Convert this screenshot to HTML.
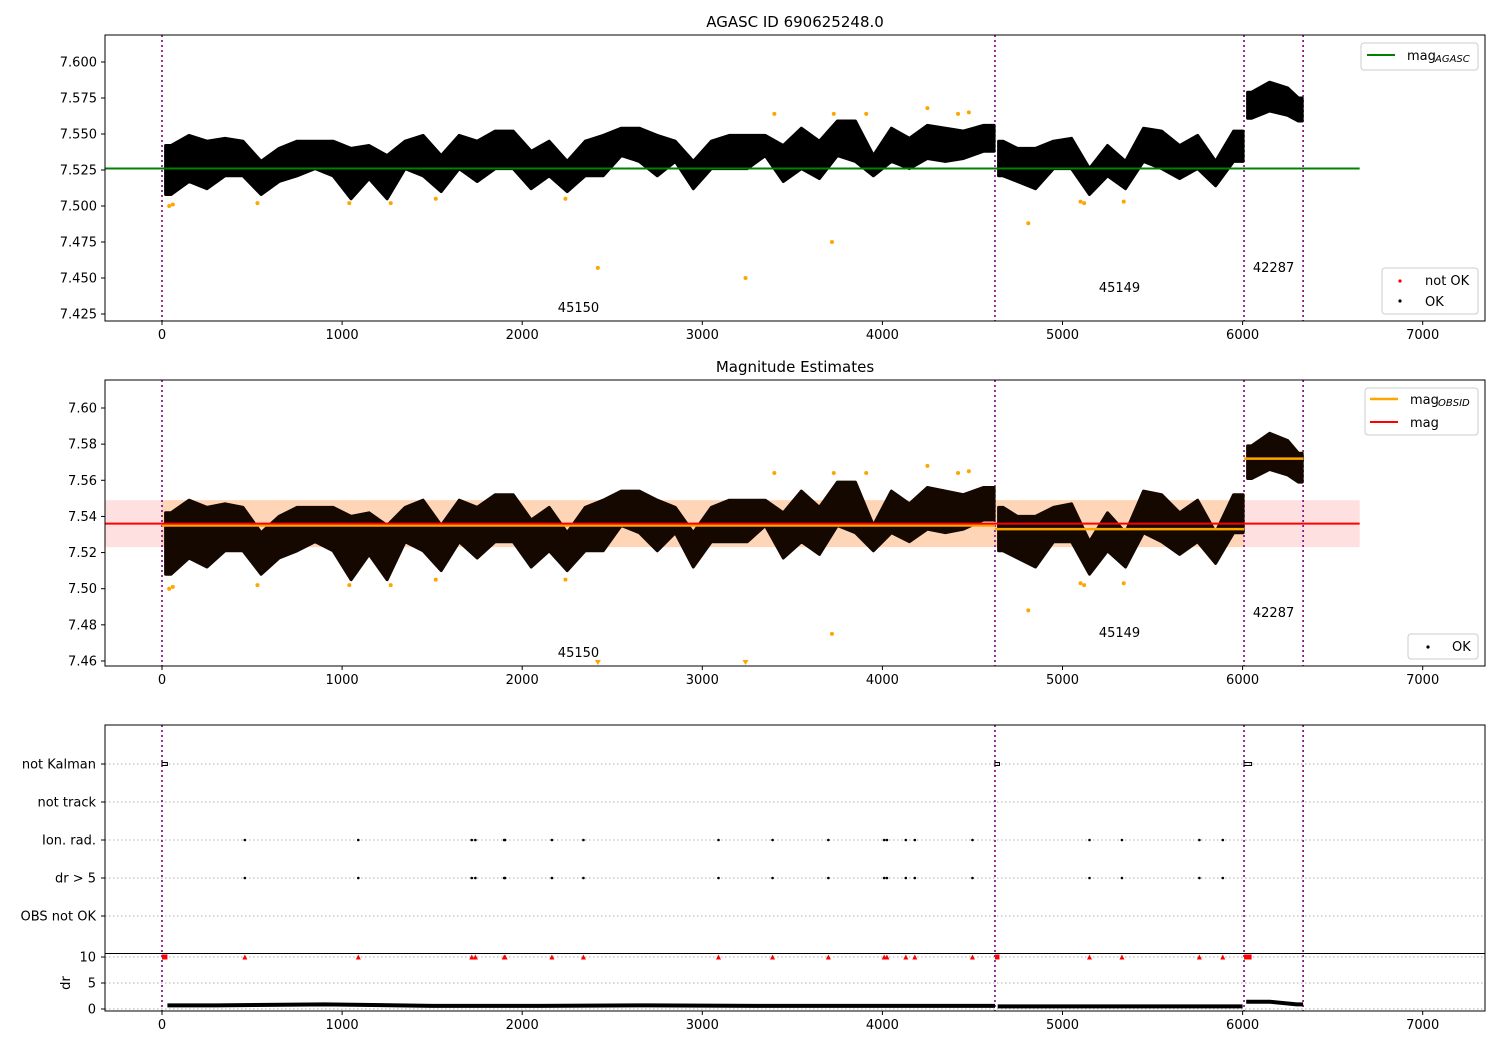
<!DOCTYPE html>
<html><head><meta charset="utf-8">
<style>
html,body{margin:0;padding:0;background:#fff;}
svg{display:block;font-family:"DejaVu Sans","Liberation Sans",sans-serif;}
</style></head>
<body>
<svg id="chart" width="1500" height="1050" viewBox="0 0 1500 1050" xmlns="http://www.w3.org/2000/svg"></svg>
<script>
// ---- data ----
const binTimes = [50,150,250,350,450,550,650,750,850,950,1050,1150,1250,1350,1450,1550,1650,1750,1850,1950,2050,2150,2250,2350,2450,2550,2650,2750,2850,2950,3050,3150,3250,3350,3450,3550,3650,3750,3850,3950,4050,4150,4250,4350,4450,4560,4670,4750,4850,4950,5050,5150,5250,5350,5450,5550,5650,5750,5850,5950,6050,6150,6250,6310];
const binLow = [7.508,7.517,7.512,7.521,7.521,7.508,7.517,7.521,7.526,7.521,7.505,7.519,7.505,7.526,7.521,7.510,7.526,7.517,7.526,7.526,7.512,7.521,7.510,7.521,7.521,7.535,7.531,7.521,7.531,7.512,7.526,7.526,7.526,7.535,7.517,7.526,7.519,7.535,7.531,7.521,7.531,7.526,7.533,7.531,7.533,7.538,7.521,7.517,7.512,7.526,7.526,7.508,7.521,7.512,7.531,7.526,7.519,7.526,7.514,7.531,7.561,7.566,7.563,7.559];
const binHigh = [7.542,7.549,7.545,7.547,7.545,7.531,7.540,7.545,7.545,7.545,7.540,7.542,7.535,7.545,7.549,7.535,7.549,7.545,7.552,7.552,7.538,7.545,7.531,7.545,7.549,7.554,7.554,7.549,7.545,7.531,7.545,7.549,7.549,7.549,7.542,7.554,7.545,7.559,7.559,7.535,7.554,7.547,7.556,7.554,7.552,7.556,7.545,7.540,7.540,7.545,7.547,7.526,7.542,7.531,7.554,7.552,7.542,7.549,7.531,7.552,7.579,7.586,7.582,7.575];
const orangeTimes = [40,60,530,1040,1270,1520,2240,2420,3240,3400,3720,3730,3910,4250,4420,4480,4810,5100,5120,5340];
const orangeMags = [7.500,7.501,7.502,7.502,7.502,7.505,7.505,7.457,7.450,7.564,7.475,7.564,7.564,7.568,7.564,7.565,7.488,7.503,7.502,7.503];
const obsStarts = [0,4625,6008];
const obsEnds = [4625,6008,6336];
const obsIds = ["45150","45149","42287"];
const obsMags = [7.535,7.533,7.572];
const magAgasc = 7.526;
const magMean = 7.536;
const magBandLow = 7.523;
const magBandHigh = 7.549;
const ionTimes = [460,1090,1720,1740,1900,1905,2165,2340,3090,3390,3700,4010,4025,4130,4180,4500,5150,5330,5760,5890];
const kalmanStarts = [0,4625,6008];
const kalmanEnds = [30,4650,6050];
const drBinTimes = [300,900,1500,2100,2700,3300,3900,4400,4900,5500,5900,6150,6300];
const drBinValues = [0.7,0.9,0.6,0.6,0.7,0.6,0.6,0.6,0.5,0.5,0.5,1.4,0.9];
const xTicks = [0,1000,2000,3000,4000,5000,6000,7000];
const y1Ticks = [7.425,7.450,7.475,7.500,7.525,7.550,7.575,7.600];
const y2Ticks = [7.46,7.48,7.50,7.52,7.54,7.56,7.58,7.60];
const flagLabels = ["not Kalman","not track","Ion. rad.","dr > 5","OBS not OK"];
const drTicks = [0,5,10];

// ---- scales ----
const X0=105, X1=1485;
const xs = t => 162 + (t)*0.1801;
const P1 = {top:35,bottom:321, y:m => 62 + (7.600-m)*1440};
const P2 = {top:380,bottom:666, y:m => 408 + (7.60-m)*1807};
const flagY = i => 764 + i*38;
const drY = v => 1009 - v*5.2;
const svg = document.getElementById('chart');
const NS='http://www.w3.org/2000/svg';
function mk(tag, attrs, parent, text){
  const e=document.createElementNS(NS,tag);
  for(const k in attrs) e.setAttribute(k,attrs[k]);
  if(text!==undefined) e.textContent=text;
  (parent||svg).appendChild(e);
  return e;
}
function g(name){ const e=mk('g',{});   return e; }

function xAxis(parent, bottom){
  xTicks.forEach(t=>{
    const l=mk('line',{x1:xs(t),x2:xs(t),y1:bottom,y2:bottom+4,stroke:'#000','stroke-width':1},parent);
    
    
    const tx=mk('text',{x:xs(t),y:bottom+18,'font-size':13,'text-anchor':'middle'},parent,String(t));
    
    
  });
}
function frame(parent, top, bottom, name){
  const r=mk('rect',{x:X0,y:top,width:X1-X0,height:bottom-top,fill:'none',stroke:'#000','stroke-width':1},parent);
  
  
}
function obsLines(parent, top, bottom){
  [0,4625,6008,6336].forEach(t=>{
    const l=mk('line',{x1:xs(t),x2:xs(t),y1:top,y2:bottom,stroke:'#800080','stroke-width':1.6,'stroke-dasharray':'2,3'},parent);
    
    
  });
}
function yAxis(parent, ticks, yf, dec){
  ticks.forEach(v=>{
    mk('line',{x1:X0-4,x2:X0,y1:yf(v),y2:yf(v),stroke:'#000'},parent);
    const tx=mk('text',{x:X0-8,y:yf(v)+4.5,'font-size':13,'text-anchor':'end'},parent,v.toFixed(dec));
    
    
  });
}
function band(parent, yf, color){
  obsStarts.forEach((s,k)=>{
    const e=obsEnds[k];
    const idx=[];
    binTimes.forEach((t,i)=>{ if(t>s && t<e) idx.push(i); });
    if(!idx.length) return;
    const t0=s+20, t1=e-5;
    const up=[[t0,binHigh[idx[0]]]].concat(idx.map(i=>[binTimes[i],binHigh[i]])).concat([[t1,binHigh[idx[idx.length-1]]]]);
    const lo=[[t0,binLow[idx[0]]]].concat(idx.map(i=>[binTimes[i],binLow[i]])).concat([[t1,binLow[idx[idx.length-1]]]]);
    const pts=up.concat(lo.reverse()).map(p=>xs(p[0]).toFixed(1)+','+yf(p[1]).toFixed(1)).join(' ');
    const pg=mk('polygon',{points:pts,fill:color,stroke:color,'stroke-width':3,'stroke-linejoin':'round'},parent);
    
    
  });
}
function obsText(parent, yf, offs){
  obsIds.forEach((id,i)=>{
    const mid=(obsStarts[i]+obsEnds[i])/2;
    const tx=mk('text',{x:xs(mid),y:offs[i],'font-size':13,'text-anchor':'middle'},parent,id);
    
    
  });
}

// ---- Panel 1 ----
const p1=g('agasc-panel');
const t1=mk('text',{x:795,y:27,'font-size':15,'text-anchor':'middle'},p1,'AGASC ID 690625248.0');


obsLines(p1,P1.top,P1.bottom);
band(p1,P1.y,'#000');
orangeTimes.forEach((t,i)=>{
  const c=mk('circle',{cx:xs(t),cy:P1.y(orangeMags[i]),r:2,fill:'orange'},p1);
  
  
});
const ag=mk('line',{x1:X0,x2:xs(6650),y1:P1.y(magAgasc),y2:P1.y(magAgasc),stroke:'green','stroke-width':2},p1);


obsText(p1,P1.y,[312,292,272]);
frame(p1,P1.top,P1.bottom,'panel1-frame');
yAxis(p1,y1Ticks,P1.y,3);
xAxis(p1,P1.bottom);
// legends
const lg1=g('legend-agasc');
mk('rect',{x:1361,y:43,width:117,height:27,rx:3,fill:'#fff',stroke:'#ccc'},lg1);
mk('line',{x1:1367,x2:1395,y1:55,y2:55,stroke:'green','stroke-width':2},lg1);
const lt1=mk('text',{x:1407,y:60,'font-size':13},lg1,'mag');


mk('text',{x:1435,y:62,'font-size':10,'font-style':'italic'},lg1,'AGASC');
const lg2=g('legend-ok');
mk('rect',{x:1382,y:268,width:96,height:46,rx:3,fill:'#fff',stroke:'#ccc'},lg2);
mk('circle',{cx:1400,cy:281,r:1.6,fill:'red'},lg2);
mk('text',{x:1425,y:285,'font-size':13},lg2,'not OK');
mk('circle',{cx:1400,cy:301,r:1.6,fill:'#000'},lg2);
mk('text',{x:1425,y:306,'font-size':13},lg2,'OK');

// ---- Panel 2 ----
const p2=g('magnitude-estimates-panel');
const t2=mk('text',{x:795,y:372,'font-size':15,'text-anchor':'middle'},p2,'Magnitude Estimates');


const pb=mk('rect',{x:X0,y:P2.y(magBandHigh),width:xs(6650)-X0,height:P2.y(magBandLow)-P2.y(magBandHigh),fill:'rgba(255,0,0,0.12)'},p2);


const ob=mk('rect',{x:xs(0),y:P2.y(magBandHigh),width:xs(6008)-xs(0),height:P2.y(magBandLow)-P2.y(magBandHigh),fill:'rgba(255,165,0,0.18)'},p2);


obsLines(p2,P2.top,P2.bottom);
band(p2,P2.y,'#140800');
orangeTimes.forEach((t,i)=>{
  const m=orangeMags[i];
  if(m<7.4572){
    const x=xs(t), y=663;
    const p=mk('path',{d:`M${x-3},${y-3}L${x+3},${y-3}L${x},${y+2}Z`,fill:'orange'},p2);
    
    
  } else {
    const c=mk('circle',{cx:xs(t),cy:P2.y(m),r:2,fill:'orange'},p2);
    
    
  }
});
obsStarts.forEach((s,i)=>{
  const l=mk('line',{x1:xs(s),x2:xs(obsEnds[i]),y1:P2.y(obsMags[i]),y2:P2.y(obsMags[i]),stroke:'orange','stroke-width':2.5},p2);
  
  
});
const ml=mk('line',{x1:X0,x2:xs(6650),y1:P2.y(magMean),y2:P2.y(magMean),stroke:'red','stroke-width':2},p2);


obsText(p2,P2.y,[657,637,617]);
frame(p2,P2.top,P2.bottom,'panel2-frame');
yAxis(p2,y2Ticks,P2.y,2);
xAxis(p2,P2.bottom);
const lg3=g('legend-obsid');
mk('rect',{x:1365,y:388,width:113,height:47,rx:3,fill:'#fff',stroke:'#ccc'},lg3);
mk('line',{x1:1370,x2:1398,y1:399,y2:399,stroke:'orange','stroke-width':2.5},lg3);
mk('text',{x:1410,y:404,'font-size':13},lg3,'mag');
mk('text',{x:1438,y:406,'font-size':10,'font-style':'italic'},lg3,'OBSID');
mk('line',{x1:1370,x2:1398,y1:422,y2:422,stroke:'red','stroke-width':2},lg3);
mk('text',{x:1410,y:427,'font-size':13},lg3,'mag');
const lg4=g('legend-ok-2');
mk('rect',{x:1408,y:634,width:70,height:25,rx:3,fill:'#fff',stroke:'#ccc'},lg4);
mk('circle',{cx:1428,cy:647,r:1.6,fill:'#000'},lg4);
mk('text',{x:1452,y:651,'font-size':13},lg4,'OK');

// ---- Panel 3 ----
const p3=g('flags-panel');
flagLabels.forEach((lab,i)=>{
  const gl=mk('line',{x1:X0,x2:X1,y1:flagY(i),y2:flagY(i),stroke:'#b0b0b0','stroke-dasharray':'1.5,2.5'},p3);
  
  
  mk('line',{x1:X0-4,x2:X0,y1:flagY(i),y2:flagY(i),stroke:'#000'},p3);
  const tx=mk('text',{x:X0-9,y:flagY(i)+4.5,'font-size':13,'text-anchor':'end'},p3,lab);
  
  
});
drTicks.forEach(v=>{
  const gl=mk('line',{x1:X0,x2:X1,y1:drY(v),y2:drY(v),stroke:'#b0b0b0','stroke-dasharray':'1.5,2.5'},p3);
  
  
  mk('line',{x1:X0-4,x2:X0,y1:drY(v),y2:drY(v),stroke:'#000'},p3);
  const tx=mk('text',{x:X0-9,y:drY(v)+4.5,'font-size':13,'text-anchor':'end'},p3,String(v));
  
  
});
const dl=mk('text',{x:70,y:983,'font-size':13,'text-anchor':'middle',transform:'rotate(-90 70 983)'},p3,'dr');


obsLines(p3,725,1011);
kalmanStarts.forEach((s,i)=>{
  const r=mk('rect',{x:xs(s),y:flagY(0)-1.5,width:Math.max(3,xs(kalmanEnds[i])-xs(s)),height:3,fill:'none',stroke:'#000','stroke-width':1},p3);
  
  
  const tr=mk('rect',{x:xs(s),y:drY(10)-2.5,width:Math.max(4,xs(kalmanEnds[i])-xs(s)),height:5,fill:'red'},p3);
  
  
});
ionTimes.forEach(t=>{
  [2,3].forEach(row=>{
    const c=mk('circle',{cx:xs(t),cy:flagY(row),r:1.3,fill:'#000'},p3);
    
    
  });
  const x=xs(t), y=drY(10);
  const tri=mk('path',{d:`M${x-2.5},${y+2.5}L${x+2.5},${y+2.5}L${x},${y-2.5}Z`,fill:'red'},p3);
  
  
});
// dr series
const segs=[[30,4625],[4640,6000],[6020,6336]];
segs.forEach(sg=>{
  const idx=[];
  drBinTimes.forEach((t,i)=>{ if(t>sg[0] && t<sg[1]) idx.push(i); });
  if(!idx.length) return;
  const pts=[[sg[0],drBinValues[idx[0]]]].concat(idx.map(i=>[drBinTimes[i],drBinValues[i]])).concat([[sg[1],drBinValues[idx[idx.length-1]]]]);
  const d=pts.map((p,k)=>(k?'L':'M')+xs(p[0])+','+drY(p[1])).join('');
  const pl=mk('path',{d:d,fill:'none',stroke:'#000','stroke-width':4},p3);
  
  
});
frame(p3,725,1011,'panel3-frame');
const sep=mk('line',{x1:X0,x2:X1,y1:953.5,y2:953.5,stroke:'#000','stroke-width':1},p3);


xAxis(p3,1011);
</script>
</body></html>
